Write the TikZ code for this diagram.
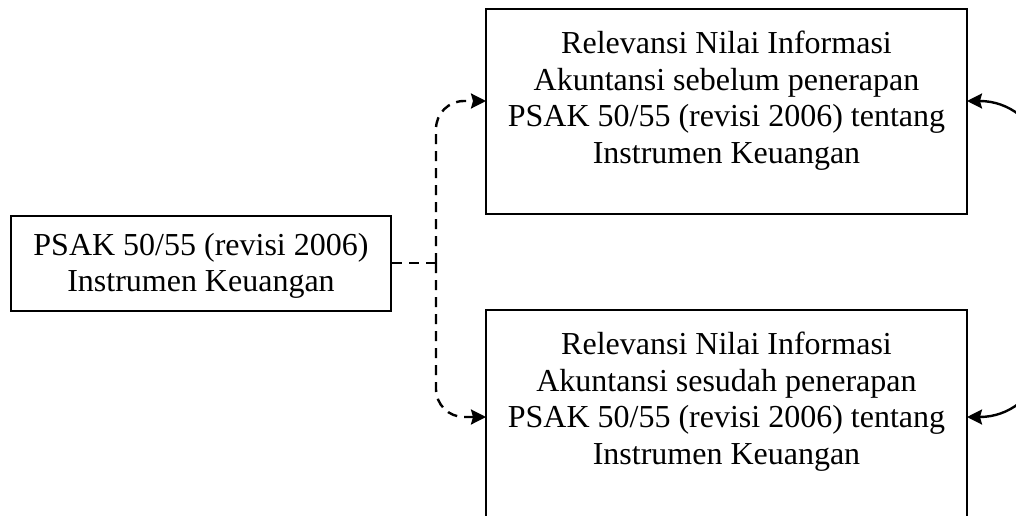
\documentclass[tikz,border=0pt]{standalone}
\usepackage{fontspec}
\setmainfont{Liberation Serif}
\usetikzlibrary{arrows.meta}
\begin{document}
\begin{tikzpicture}[x=1pt,y=-1pt,
  box/.style={draw, line width=2pt, inner sep=0pt},
  txt/.style={align=center, inner sep=0pt, font=\fontsize{32}{36.5}\selectfont},
  dashline/.style={line width=2.4pt, dash pattern=on 10pt off 7pt},
  tipend/.style={-{Stealth[length=15pt,width=15pt,inset=2pt]}},
  bothtips/.style={{Stealth[length=15pt,width=15pt,inset=2pt]}-{Stealth[length=15pt,width=15pt,inset=2pt]}},
  curveline/.style={line width=2.4pt}]
\useasboundingbox (0,0) rectangle (1016,516);
% boxes
\node[box, minimum width=380pt, minimum height=95pt] (left) at (201,263) {};
\node[box, minimum width=481pt, minimum height=205pt] (top) at (726.5,111.5) {};
\node[box, minimum width=481pt, minimum height=215pt] (bottom) at (726.5,417.5) {};
% texts
\node[txt, anchor=north] (lefttext) at (201,233) {PSAK 50/55 (revisi 2006)\\Instrumen Keuangan};
\node[txt, anchor=north] (toptext) at (726.5,31) {Relevansi Nilai Informasi\\Akuntansi sebelum penerapan\\PSAK 50/55 (revisi 2006) tentang\\Instrumen Keuangan};
\node[txt, anchor=north] (bottomtext) at (726.5,332) {Relevansi Nilai Informasi\\Akuntansi sesudah penerapan\\PSAK 50/55 (revisi 2006) tentang\\Instrumen Keuangan};
% connector points
\coordinate (j) at (436,263);
\coordinate (ta) at (486,101);
\coordinate (ba) at (486,417);
\coordinate (tr) at (967,101);
\coordinate (br) at (967,417);
% dashed connectors
\draw[dashline] (left.east) -- (j);
\draw[dashline, tipend, rounded corners=28pt] (j) |- (ta);
\draw[dashline, tipend, rounded corners=28pt] (j) |- (ba);
% right curved double arrow
\draw[curveline, bothtips] (tr) .. controls (1100,101) and (1100,417) .. (br);
\end{tikzpicture}
\end{document}
